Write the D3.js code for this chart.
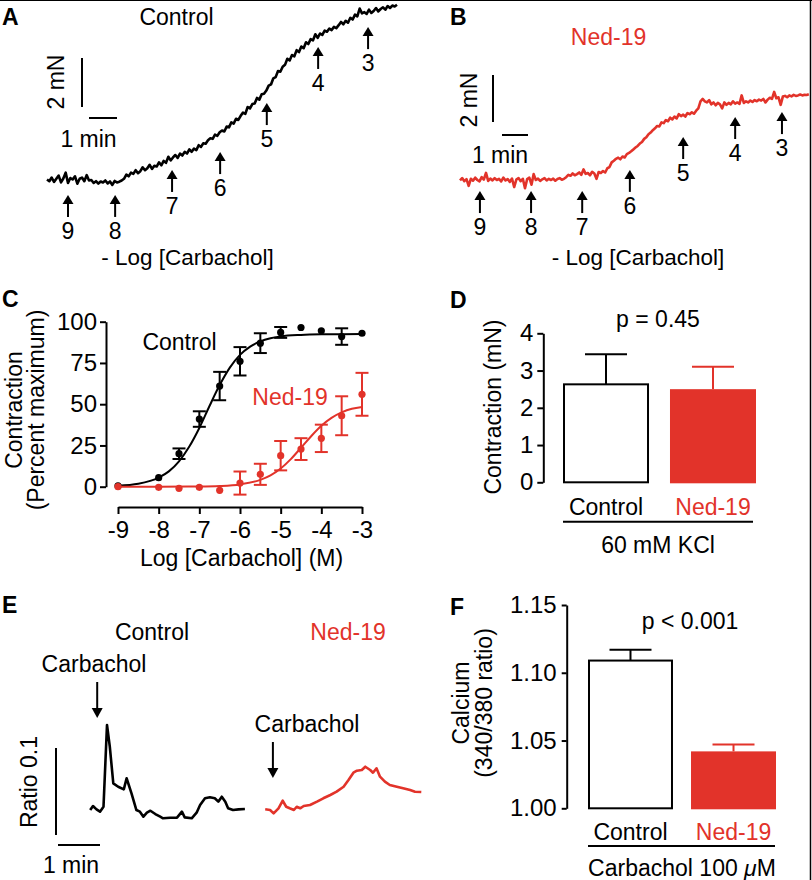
<!DOCTYPE html>
<html><head><meta charset="utf-8">
<script src="https://cdn.jsdelivr.net/npm/d3@7"></script>
<style>
body{margin:0;background:#fff}
svg{display:block}
text{font-family:"Liberation Sans",Arial,Helvetica,sans-serif}
</style>
</head><body>
<svg id="fig" width="812" height="880"></svg>
<script>
// ---------------- DATA ----------------
const RED = "#e2332a";
const groups = ["Control", "Ned-19"];
const doseLabels = ["9", "8", "7", "6", "5", "4", "3"];

// Panel A / B : force traces (mN above baseline), sampled every 5 s
const sampleStepSec = 5;
const forceControl = [
 0.02,-0.05,0.10,-0.08,0.05,0.18,-0.10,0.06,0.30,-0.12,
 0.08,0.02,0.15,-0.15,0.05,0.10,-0.05,0.20,-0.02,0.00,
 -0.12,-0.05,-0.15,-0.06,-0.10,-0.02,-0.14,-0.06,-0.20,-0.04,
 -0.10,-0.07,-0.02,0.05,0.22,0.15,0.30,0.25,0.40,0.28,
 0.36,0.52,0.40,0.48,0.62,0.45,0.58,0.55,0.72,0.60,
 0.78,0.70,0.95,0.80,0.92,1.02,0.90,1.08,1.00,1.15,
 1.08,1.25,1.15,1.28,1.22,1.42,1.35,1.50,1.48,1.62,
 1.70,1.68,1.85,1.80,1.95,2.02,1.98,2.18,2.15,2.35,
 2.30,2.50,2.45,2.62,2.75,2.70,2.98,2.92,3.10,3.12,
 3.35,3.28,3.50,3.52,3.65,3.85,3.90,4.15,4.20,4.45,
 4.42,4.62,4.70,4.95,4.88,5.10,5.05,5.30,5.22,5.45,
 5.38,5.62,5.55,5.75,5.70,5.95,5.80,5.98,5.92,6.10,
 6.05,6.18,6.12,6.25,6.20,6.32,6.45,6.35,6.50,6.42,
 6.62,6.55,6.75,6.68,7.00,6.80,6.85,6.78,6.95,6.82,
 6.90,7.02,6.88,6.98,7.05,6.95,7.10,7.02,7.12,7.08,
 7.15];
const forceNed = [
 -0.02,0.08,-0.05,0.04,-0.25,0.05,-0.03,0.10,0.00,-0.06,
 0.12,0.02,0.30,-0.04,0.06,-0.02,0.08,0.00,0.05,-0.06,
 0.10,-0.02,0.04,-0.08,0.06,-0.30,0.02,0.08,-0.05,0.05,
 -0.35,0.04,0.10,-0.20,0.25,0.00,0.06,-0.04,0.03,0.08,
 -0.02,0.05,0.00,0.06,-0.03,0.04,0.08,0.01,0.05,0.12,
 0.22,0.18,0.28,0.20,0.25,0.32,0.22,0.45,0.26,0.30,
 0.20,0.35,0.28,0.05,0.34,0.30,0.38,0.32,0.50,0.55,
 0.75,0.82,0.90,0.95,0.88,1.00,0.96,1.10,1.15,1.22,
 1.30,1.38,1.45,1.55,1.62,1.75,1.82,1.95,2.02,2.12,
 2.20,2.30,2.28,2.45,2.42,2.55,2.50,2.65,2.58,2.70,
 2.62,2.80,2.72,2.78,2.70,2.85,2.80,2.88,2.82,2.95,
 3.05,3.35,3.45,3.35,3.30,3.40,3.22,3.30,3.18,3.28,
 3.22,3.05,3.30,3.20,3.28,3.22,3.35,3.25,3.30,3.24,
 3.60,3.28,3.35,3.30,3.38,3.32,3.40,3.35,3.42,3.38,
 3.45,3.30,3.42,3.50,3.45,3.75,3.48,3.52,3.20,3.55,
 3.58,3.52,3.60,3.56,3.62,3.58,3.60,3.64,3.60,3.63,
 3.62,3.65];
// carbachol additions: time (s) and arrow-tip level (mN)
const arrowTimesA  = [45, 146, 268, 371, 471, 581, 688];
const arrowLevelsA = [-0.61, -0.61, 0.41, 1.14, 3.14, 5.43, 6.24];
const arrowTimesB  = [46, 164, 282, 392, 515, 635, 743];
const arrowLevelsB = [-0.47, -0.47, -0.47, 0.43, 1.83, 2.68, 2.89];

// Panel C : concentration-response
const logConc  = [-9, -8, -7.5, -7, -6.5, -6, -5.5, -5, -4.5, -4, -3.5, -3];
const ctrlMean = [0.5, 5.5, 20, 41, 61, 76, 87, 93.5, 96.5, 94.5, 91, 93];
const ctrlSem  = [0, 0, 3.2, 4.7, 8.6, 8.6, 6, 3.3, 0, 0, 5, 0];
const nedMean  = [0, -0.4, -1, -0.4, -2.2, 2.2, 7.5, 18.8, 22.8, 29.3, 43, 56];
const nedSem   = [0, 0, 0, 0, 0, 7, 6.4, 8.9, 6.6, 8.3, 11.8, 13];
const ctrlFitX = [-9,-8.5,-8,-7.75,-7.5,-7.25,-7,-6.75,-6.5,-6.25,-6,-5.75,-5.5,-5.25,-5,-4.5,-4,-3.5,-3];
const ctrlFitY = [0.6,1.8,5.5,9.3,15.4,24.2,35.6,48.9,61.6,72.2,79.9,84.9,88.1,90.0,91.1,92.0,92.35,92.45,92.5];
const nedFitX  = [-9,-8,-7,-6.5,-6,-5.5,-5.25,-5,-4.75,-4.5,-4.25,-4,-3.75,-3.5,-3.25,-3];
const nedFitY  = [0,0.02,0.14,0.44,1.4,4.1,6.8,11.0,16.7,23.6,30.6,36.9,41.7,45.0,47.2,48.3];
const xTicksC = [-9, -8, -7, -6, -5, -4, -3];
const yTicksC = [0, 25, 50, 75, 100];

// Panel D : KCl contraction (mN)
const kclMean = [2.63, 2.50];
const kclSem  = [0.81, 0.60];
const yTicksD = [0, 1, 2, 3, 4];

// Panel E : calcium ratio traces (time s, 340/380 ratio)
const timeCtrlE  = [46,50,55,60,65,70,74,79,86,94,98,105,112,117,122,127,132,139,146,150,160,170,177,181,191,198,203,210,217,224,229,234,239,243,250,258,267];
const ratioCtrlE = [1.0287,1.0333,1.0295,1.0268,1.0325,1.1264,1.1015,1.0594,1.0555,1.0525,1.0652,1.0479,1.0287,1.0268,1.0210,1.0256,1.0279,1.0241,1.0210,1.0192,1.0199,1.0199,1.0268,1.0203,1.0192,1.0256,1.0345,1.0422,1.0433,1.0422,1.0383,1.0440,1.0383,1.0307,1.0287,1.0295,1.0299];
const timeNedE   = [296,303,308,315,321,326,331,337,341,346,351,360,370,379,389,398,408,415,422,427,434,439,446,450,455,460,467,474,484,493,503,510,519];
const ratioNedE  = [1.0295,1.0287,1.0249,1.0307,1.0394,1.0325,1.0307,1.0287,1.0325,1.0307,1.0333,1.0345,1.0383,1.0422,1.0460,1.0498,1.0555,1.0632,1.0716,1.0739,1.0747,1.0785,1.0747,1.0716,1.0767,1.0670,1.0613,1.0575,1.0555,1.0537,1.0517,1.0498,1.0494];
const carbacholTimesE = [56, 307];

// Panel F : calcium (340/380 ratio)
const caMean = [1.109, 1.042];
const caSem  = [0.008, 0.005];
const yTicksF = [1.00, 1.05, 1.10, 1.15];

// ---------------- DRAWING ----------------
const svg = d3.select("#fig");
function txt(x, y, s, o = {}) {
  const t = svg.append("text").attr("x", x).attr("y", y).text(s)
    .attr("font-size", o.size || 23).attr("fill", o.fill || "#000")
    .attr("text-anchor", o.anchor || "middle");
  if (o.bold) t.attr("font-weight", "bold");
  if (o.rotate) t.attr("transform", `rotate(-90,${x},${y})`);
  return t;
}
function seg(x1, y1, x2, y2, color = "#000", w = 2) {
  svg.append("line").attr("x1", x1).attr("y1", y1).attr("x2", x2).attr("y2", y2)
    .attr("stroke", color).attr("stroke-width", w);
}
function upArrow(x, tip) {
  seg(x, tip + 7, x, tip + 22, "#000", 2);
  svg.append("path").attr("d", `M${x},${tip} L${x-5.5},${tip+9} L${x+5.5},${tip+9} Z`).attr("fill", "#000");
}
function downArrow(x, top, tip) {
  seg(x, top, x, tip - 8, "#000", 2);
  svg.append("path").attr("d", `M${x},${tip} L${x-5.5},${tip-10} L${x+5.5},${tip-10} Z`).attr("fill", "#000");
}
function styleAxis(g, size) {
  g.selectAll("path,line").attr("stroke", "#000").attr("stroke-width", 2);
  g.selectAll("text").attr("font-size", size).attr("fill", "#000")
    .attr("font-family", '"Liberation Sans",Arial,Helvetica,sans-serif');
}

// frame lines (top & right)
seg(0, 0.5, 812, 0.5, "#000", 1.2);
seg(810.5, 0, 810.5, 880, "#000", 1.5);

// panel letters
[["A",2,25],["B",450,25],["C",2,307],["D",450,308],["E",2,613],["F",450,615]]
  .forEach(([l,x,y]) => txt(x, y, l, {bold: true, size: 23, anchor: "start"}));

// ---- Panel A ----
const xA = d3.scaleLinear().domain([0, 750]).range([47, 397]);
const yA = d3.scaleLinear().domain([0, 2]).range([180, 131]);
svg.append("path").datum(forceControl)
  .attr("d", d3.line().x((d, i) => xA(i * sampleStepSec)).y(d => yA(d)))
  .attr("fill", "none").attr("stroke", "#000").attr("stroke-width", 2.6).attr("stroke-linejoin", "round");
arrowTimesA.forEach((t, i) => {
  const x = xA(t), tip = yA(arrowLevelsA[i]);
  upArrow(x, tip);
  txt(x, tip + 44, doseLabels[i]);
});
seg(82, 107, 82, 107 - (yA(0) - yA(2)));
seg(89, 118, 89 + (xA(60) - xA(0)), 118);
txt(64, 82, "2 mN", {rotate: true});
txt(88.5, 147, "1 min");
txt(176.5, 25, "Control");
txt(187.5, 265, "- Log [Carbachol]", {size: 22.5});

// ---- Panel B ----
const xB = d3.scaleLinear().domain([0, 805]).range([460, 460 + 805 * 26 / 60]);
const yB = d3.scaleLinear().domain([0, 2]).range([180, 133]);
svg.append("path").datum(forceNed)
  .attr("d", d3.line().x((d, i) => xB(i * sampleStepSec)).y(d => yB(d)))
  .attr("fill", "none").attr("stroke", RED).attr("stroke-width", 2.6).attr("stroke-linejoin", "round");
arrowTimesB.forEach((t, i) => {
  const x = xB(t), tip = yB(arrowLevelsB[i]);
  upArrow(x, tip);
  txt(x, tip + 44, doseLabels[i]);
});
seg(493, 122, 493, 122 - (yB(0) - yB(2)));
seg(502, 135, 502 + (xB(60) - xB(0)), 135);
txt(477, 100, "2 mN", {rotate: true});
txt(500, 163, "1 min");
txt(608.5, 45, "Ned-19", {fill: RED});
txt(638, 265, "- Log [Carbachol]", {size: 22.5});

// ---- Panel C ----
const xC = d3.scaleLinear().domain([-9, -3]).range([118, 362]);
const yC = d3.scaleLinear().domain([0, 100]).range([486.7, 321.7]);
const gyC = svg.append("g").attr("transform", "translate(106,0)")
  .call(d3.axisLeft(yC).tickValues(yTicksC).tickSize(6).tickSizeOuter(0).tickPadding(3));
styleAxis(gyC, 24);
const gxC = svg.append("g").attr("transform", "translate(0,507)")
  .call(d3.axisBottom(xC).tickValues(xTicksC).tickSize(7).tickSizeOuter(0).tickPadding(7).tickFormat(d => String(d)));
styleAxis(gxC, 24);
const lineC = d3.line().curve(d3.curveMonotoneX);
function drawSeries(fx, fy, mean, sem, color) {
  svg.append("path").datum(fx.map((x, i) => [xC(x), yC(fy[i])]))
    .attr("d", lineC).attr("fill", "none").attr("stroke", color).attr("stroke-width", 2);
  logConc.forEach((x, i) => {
    const cx = xC(x);
    if (sem[i] > 0) {
      const y1 = yC(mean[i] - sem[i]), y2 = yC(mean[i] + sem[i]);
      seg(cx, y1, cx, y2, color, 2);
      seg(cx - 6.5, y1, cx + 6.5, y1, color, 2);
      seg(cx - 6.5, y2, cx + 6.5, y2, color, 2);
    }
    svg.append("circle").attr("cx", cx).attr("cy", yC(mean[i])).attr("r", 3.6).attr("fill", color);
  });
}
drawSeries(ctrlFitX, ctrlFitY, ctrlMean, ctrlSem, "#000");
drawSeries(nedFitX, nedFitY, nedMean, nedSem, RED);
txt(179.5, 350, "Control");
txt(290, 405, "Ned-19", {fill: RED});
txt(241.5, 566, "Log [Carbachol] (M)");
txt(22, 410, "Contraction", {rotate: true});
txt(44, 410, "(Percent maximum)", {rotate: true});

// ---- Panel D ----
const yD = d3.scaleLinear().domain([0, 4]).range([482.3, 333.3]);
const xD = d3.scaleBand().domain(groups).range([563, 756]).paddingInner(0.196);
const gyD = svg.append("g").attr("transform", "translate(543.3,0)")
  .call(d3.axisLeft(yD).tickValues(yTicksD).tickSize(6).tickSizeOuter(0).tickPadding(4).tickFormat(d3.format("d")));
styleAxis(gyD, 24);
groups.forEach((g, i) => {
  const x0 = xD(g), bw = xD.bandwidth(), cx = x0 + bw / 2;
  const color = i === 0 ? "#000" : RED;
  const top = yD(kclMean[i] + kclSem[i]);
  seg(cx, yD(kclMean[i]), cx, top, color, 2);
  seg(cx - 21, top, cx + 21, top, color, 2);
  if (i === 0) {
    svg.append("rect").attr("x", x0 + 1).attr("y", yD(kclMean[i])).attr("width", bw - 2)
      .attr("height", yD(0) - yD(kclMean[i])).attr("fill", "#fff").attr("stroke", "#000").attr("stroke-width", 2);
  } else {
    svg.append("rect").attr("x", x0).attr("y", yD(kclMean[i])).attr("width", bw)
      .attr("height", yD(0) - yD(kclMean[i]) + 1).attr("fill", RED);
  }
  txt(cx, 515, g, {fill: color});
});
seg(563, 521.7, 753, 521.7);
txt(658, 327, "p = 0.45");
txt(658, 553, "60 mM KCl");
txt(501, 407, "Contraction (mN)", {rotate: true});

// ---- Panel E ----
const xE = d3.scaleLinear().domain([0, 60]).range([58, 100]);
const yE = d3.scaleLinear().domain([1.0, 1.1]).range([835, 748]);
const lineE = d3.line().x(d => xE(d[0])).y(d => yE(d[1]));
svg.append("path").datum(timeCtrlE.map((t, i) => [t, ratioCtrlE[i]]))
  .attr("d", lineE).attr("fill", "none").attr("stroke", "#000").attr("stroke-width", 2.6).attr("stroke-linejoin", "round");
svg.append("path").datum(timeNedE.map((t, i) => [t, ratioNedE[i]]))
  .attr("d", lineE).attr("fill", "none").attr("stroke", RED).attr("stroke-width", 2.6).attr("stroke-linejoin", "round");
downArrow(xE(carbacholTimesE[0]), 682, 718);
downArrow(xE(carbacholTimesE[1]), 742, 778);
txt(94, 672, "Carbachol");
txt(307, 732, "Carbachol");
txt(152, 640, "Control");
txt(348, 640, "Ned-19", {fill: RED});
seg(56, yE(1.0), 56, yE(1.1));
seg(xE(0), 845, xE(60), 845);
txt(37, 782, "Ratio 0.1", {rotate: true});
txt(71, 873, "1 min");

// ---- Panel F ----
const yF = d3.scaleLinear().domain([1.0, 1.15]).range([808.3, 605]);
const xF = d3.scaleBand().domain(groups).range([588, 776]).paddingInner(0.175);
const gyF = svg.append("g").attr("transform", "translate(566.7,0)")
  .call(d3.axisLeft(yF).tickValues(yTicksF).tickSize(5).tickSizeOuter(0).tickPadding(5).tickFormat(d3.format(".2f")));
styleAxis(gyF, 24);
groups.forEach((g, i) => {
  const x0 = xF(g), bw = xF.bandwidth(), cx = x0 + bw / 2;
  const color = i === 0 ? "#000" : RED;
  const top = yF(caMean[i] + caSem[i]);
  seg(cx, yF(caMean[i]), cx, top, color, 2);
  seg(cx - 21, top, cx + 21, top, color, 2);
  if (i === 0) {
    svg.append("rect").attr("x", x0 + 1).attr("y", yF(caMean[i])).attr("width", bw - 2)
      .attr("height", yF(1.0) - yF(caMean[i])).attr("fill", "#fff").attr("stroke", "#000").attr("stroke-width", 2);
  } else {
    svg.append("rect").attr("x", x0).attr("y", yF(caMean[i])).attr("width", bw)
      .attr("height", yF(1.0) - yF(caMean[i]) + 1).attr("fill", RED);
  }
  txt(cx, 840, g, {fill: color});
});
seg(588, 846, 775, 846);
txt(690, 629, "p < 0.001");
const tF = txt(682, 876, "Carbachol 100 ");
tF.append("tspan").attr("font-style", "italic").text("\u03bc");
tF.append("tspan").text("M");
txt(469, 703, "Calcium", {rotate: true});
txt(492, 703, "(340/380 ratio)", {rotate: true});
</script>
</body></html>
